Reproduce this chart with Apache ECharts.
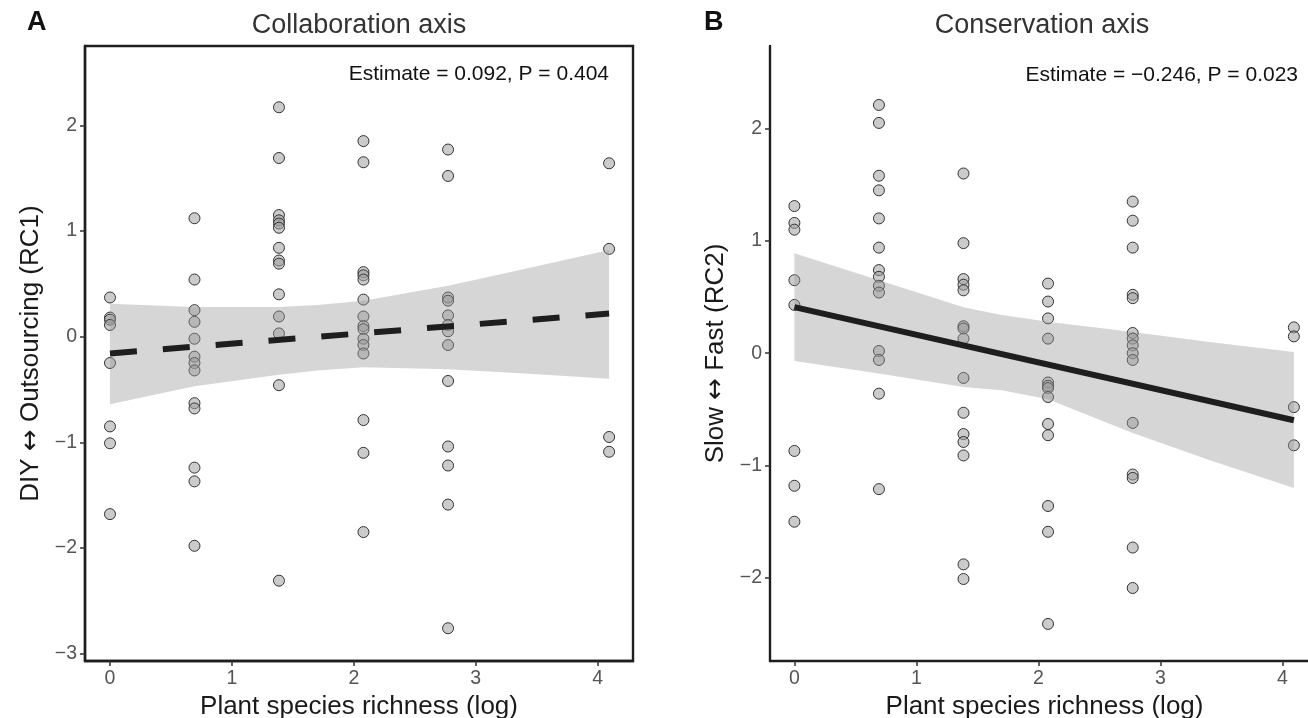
<!DOCTYPE html>
<html>
<head>
<meta charset="utf-8">
<script src="https://cdn.jsdelivr.net/npm/echarts@6/dist/echarts.min.js"></script>
<style>
html,body{margin:0;padding:0;background:#fff;}
#chart{width:1308px;height:718px;}
</style>
</head>
<body>
<div id="chart"></div>
<script>
// ---------- DATA ----------
const xLevels = [0, 0.693, 1.386, 2.079, 2.773, 4.094];
const xTicks = [0, 1, 2, 3, 4];
const yTicksA = [-3, -2, -1, 0, 1, 2];
const yTicksB = [-2, -1, 0, 1, 2];

// Panel A (Collaboration axis) values per richness level
const colA0 = [0.37, 0.18, 0.16, 0.11, -0.25, -0.85, -1.01, -1.68];
const colA1 = [1.12, 0.54, 0.25, 0.14, -0.02, -0.19, -0.25, -0.32, -0.63, -0.68, -1.24, -1.37, -1.98];
const colA2 = [2.17, 1.69, 1.15, 1.10, 1.07, 1.03, 0.84, 0.72, 0.69, 0.40, 0.19, 0.03, -0.46, -2.31];
const colA3 = [1.85, 1.65, 0.61, 0.58, 0.54, 0.35, 0.19, 0.10, 0.07, -0.02, -0.08, -0.16, -0.79, -1.10, -1.85];
const colA4 = [1.77, 1.52, 0.37, 0.34, 0.20, 0.11, 0.05, -0.08, -0.42, -1.04, -1.22, -1.59, -2.76];
const colA5 = [1.64, 0.83, -0.95, -1.09];

// Panel B (Conservation axis) values per richness level
const colB0 = [1.31, 1.16, 1.10, 0.65, 0.43, -0.87, -1.18, -1.50];
const colB1 = [2.21, 2.05, 1.58, 1.45, 1.20, 0.94, 0.74, 0.68, 0.60, 0.54, 0.02, -0.06, -0.36, -1.21];
const colB2 = [1.60, 0.98, 0.66, 0.61, 0.56, 0.24, 0.22, 0.13, -0.22, -0.53, -0.72, -0.79, -0.91, -1.88, -2.01];
const colB3 = [0.62, 0.46, 0.31, 0.13, -0.26, -0.29, -0.31, -0.39, -0.63, -0.73, -1.36, -1.59, -2.41];
const colB4 = [1.35, 1.18, 0.94, 0.52, 0.49, 0.18, 0.13, 0.07, 0.00, -0.06, -0.62, -1.08, -1.11, -1.73, -2.09];
const colB5 = [0.23, 0.15, -0.48, -0.82];

// Fitted lines (endpoints)
const fitX = [0, 4.094];
const fitA = [-0.159, 0.218];
const fitB = [0.41, -0.597];

// Confidence ribbons
const ribbonX = [0, 0.693, 1.386, 1.7, 2.079, 2.773, 3.4, 4.094];
const ribbonUpperA = [0.31, 0.28, 0.28, 0.30, 0.34, 0.48, 0.64, 0.82];
const ribbonLowerA = [-0.64, -0.47, -0.36, -0.32, -0.29, -0.31, -0.35, -0.40];
const ribbonUpperB = [0.89, 0.65, 0.41, 0.34, 0.28, 0.19, 0.10, 0.01];
const ribbonLowerB = [-0.07, -0.18, -0.30, -0.33, -0.41, -0.71, -0.95, -1.20];

const titleA = 'Collaboration axis';
const titleB = 'Conservation axis';
const annotA = 'Estimate = 0.092, P = 0.404';
const annotB = 'Estimate = \u22120.246, P = 0.023';
const yNameA = 'DIY {arr|\u2194} Outsourcing (RC1)';
const yNameB = 'Slow {arr|\u2194} Fast (RC2)';
const xName = 'Plant species richness (log)';

// ---------- BUILD ----------
function pairs(cols) {
  const out = [];
  cols.forEach((col, i) => col.forEach(v => out.push([xLevels[i], v])));
  return out;
}
const ptsA = pairs([colA0, colA1, colA2, colA3, colA4, colA5]);
const ptsB = pairs([colB0, colB1, colB2, colB3, colB4, colB5]);

const FONT = '"Liberation Sans", Arial, Helvetica, sans-serif';
const minus = v => String(v).replace('-', '\u2212');

function xAxisCfg(gi, min, max) {
  return {
    gridIndex: gi, type: 'value', min: min, max: max,
    name: xName, nameLocation: 'middle', nameGap: 26,
    nameTextStyle: {fontSize: 26, color: '#1a1a1a', fontFamily: FONT},
    splitLine: {show: false},
    axisLine: {show: true, onZero: false, lineStyle: {color: '#1e1e1e', width: 2.4}},
    axisTick: {show: true, length: 5, customValues: xTicks, lineStyle: {color: '#333', width: 1.5}},
    axisLabel: {customValues: xTicks, fontSize: 19.5, color: '#555', margin: 8, fontFamily: FONT, formatter: minus}
  };
}
function yAxisCfg(gi, min, max, ticks, name) {
  return {
    gridIndex: gi, type: 'value', min: min, max: max,
    name: name, nameLocation: 'middle', nameGap: 41, nameRotate: 90,
    nameTextStyle: {fontSize: 26, color: '#1a1a1a', fontFamily: FONT,
      rich: {arr: {fontFamily: '"DejaVu Sans", sans-serif', fontSize: 26, color: '#1a1a1a'}}},
    splitLine: {show: false},
    axisLine: {show: true, onZero: false, lineStyle: {color: '#1e1e1e', width: 2.4}},
    axisTick: {show: true, length: 5, customValues: ticks, lineStyle: {color: '#333', width: 1.5}},
    axisLabel: {customValues: ticks, fontSize: 19.5, color: '#555', margin: 8, fontFamily: FONT, formatter: minus}
  };
}
function ribbon(gi, upper, lower) {
  return {
    type: 'custom', xAxisIndex: gi, yAxisIndex: gi, z: 3, silent: true,
    data: [[0, 0]],
    renderItem: function (params, api) {
      const p = [];
      for (let i = 0; i < ribbonX.length; i++) p.push(api.coord([ribbonX[i], upper[i]]));
      for (let i = ribbonX.length - 1; i >= 0; i--) p.push(api.coord([ribbonX[i], lower[i]]));
      return {type: 'polygon', shape: {points: p}, style: {fill: 'rgba(153,153,153,0.4)'}};
    }
  };
}
function scatter(gi, data) {
  return {
    type: 'scatter', xAxisIndex: gi, yAxisIndex: gi, z: 2, data: data,
    symbol: 'circle', symbolSize: 11,
    itemStyle: {color: 'rgba(160,160,160,0.55)', borderColor: '#333', borderWidth: 1, opacity: 1},
    emphasis: {disabled: true}
  };
}
function fitLine(gi, ys, dashed) {
  return {
    type: 'line', xAxisIndex: gi, yAxisIndex: gi, z: 4, silent: true,
    data: fitX.map((x, i) => [x, ys[i]]),
    symbol: 'none',
    lineStyle: {color: '#1e1e1e', width: 6, type: dashed ? [27, 26] : 'solid', cap: 'butt'}
  };
}

const chart = echarts.init(document.getElementById('chart'), null, {renderer: 'canvas'});
chart.setOption({
  animation: false,
  backgroundColor: '#fff',
  textStyle: {fontFamily: FONT},
  grid: [
    {left: 85, right: 675, top: 46, bottom: 57, containLabel: false, outerBoundsMode: 'none',
     show: true, borderColor: '#1e1e1e', borderWidth: 2.4, backgroundColor: 'transparent'},
    {left: 770, right: -11, top: 46, bottom: 57, containLabel: false, outerBoundsMode: 'none', show: false}
  ],
  xAxis: [xAxisCfg(0, -0.205, 4.29), xAxisCfg(1, -0.2, 4.3)],
  yAxis: [yAxisCfg(0, -3.07, 2.75, yTicksA, yNameA), yAxisCfg(1, -2.74, 2.735, yTicksB, yNameB)],
  series: [
    scatter(0, ptsA), ribbon(0, ribbonUpperA, ribbonLowerA), fitLine(0, fitA, true),
    scatter(1, ptsB), ribbon(1, ribbonUpperB, ribbonLowerB), fitLine(1, fitB, false)
  ],
  graphic: [
    {type: 'text', x: 27, y: 23, style: {text: 'A', font: 'bold 27px ' + FONT, fill: '#111', textVerticalAlign: 'middle'}},
    {type: 'text', x: 704, y: 23, style: {text: 'B', font: 'bold 27px ' + FONT, fill: '#111', textVerticalAlign: 'middle'}},
    {type: 'text', x: 359, y: 26, style: {text: titleA, font: '27px ' + FONT, fill: '#333', textAlign: 'center', textVerticalAlign: 'middle'}},
    {type: 'text', x: 1042, y: 26, style: {text: titleB, font: '27px ' + FONT, fill: '#333', textAlign: 'center', textVerticalAlign: 'middle'}},
    {type: 'text', x: 609, y: 74, style: {text: annotA, font: '21px ' + FONT, fill: '#111', textAlign: 'right', textVerticalAlign: 'middle'}},
    {type: 'text', x: 1298, y: 75, style: {text: annotB, font: '21px ' + FONT, fill: '#111', textAlign: 'right', textVerticalAlign: 'middle'}}
  ]
});
</script>
</body>
</html>
